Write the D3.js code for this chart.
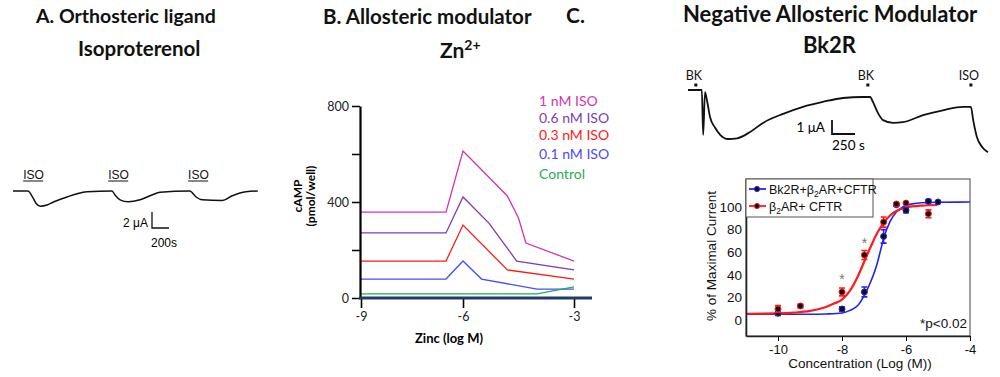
<!DOCTYPE html>
<html>
<head>
<meta charset="utf-8">
<script src="https://cdn.jsdelivr.net/npm/d3@7"></script>
<style>
  body { margin: 0; background: #fff; }
  svg { display: block; }
  .cal { font-family: Lato, "Open Sans", sans-serif; }
  .ari { font-family: "Liberation Sans", Arial, sans-serif; }
</style>
</head>
<body>
<svg id="fig" width="1000" height="377"></svg>
<script>
// ---- panel A: oocyte current trace, time (s) vs current (uA)
const isoTraceT = [0, 175, 235, 275, 320, 400, 470, 635, 765, 870, 1165, 1200, 1260, 1355, 1495, 1635, 1730, 2080, 2155, 2225, 2460, 2580, 2740, 2880];
const isoTraceI = [0, 0, -0.85, -1.6, -1.9, -1.75, -1.4, -0.75, -0.3, -0.1, 0, -0.5, -1.1, -1.35, -1.1, -0.5, -0.15, 0, -0.75, -1.1, -1.2, -0.6, -0.1, 0];
const isoApplied = [120, 1120, 2060];

// ---- panel B: cAMP (pmol/well) vs zinc (log M)
const bLabels = ['1 nM ISO', '0.6 nM ISO', '0.3 nM ISO', '0.1 nM ISO', 'Control'];
const bColors = ['#d433b4', '#7b3fb5', '#ff1a1a', '#4a4aff', '#1fae4f'];
const znIso1 = [-9, -6.5, -6, -4.8, -4.5, -4.3, -3];
const campIso1 = [358, 358, 612, 425, 333, 229, 154];
const znIso06 = [-9, -6.5, -6, -5.3, -4.55, -3];
const campIso06 = [271, 271, 421, 312, 154, 117];
const znIso03 = [-9, -6.5, -6, -4.8, -3];
const campIso03 = [154, 154, 304, 117, 79];
const znIso01 = [-9, -6.5, -6, -5.5, -4, -3];
const campIso01 = [79, 79, 154, 79, 37, 37];
const znCtrl = [-9, -4, -3];
const campCtrl = [17, 17, 46];
const bZn = [znIso1, znIso06, znIso03, znIso01, znCtrl];
const bCamp = [campIso1, campIso06, campIso03, campIso01, campCtrl];

// ---- panel C top: BK / ISO trace, time (s) vs current (uA)
const bkTraceT = [0, 150, 165, 185, 205, 240, 295, 350, 435, 535, 675, 815, 1035, 1250, 1465, 1685, 1900, 1980, 2010, 2065, 2120, 2230, 2335, 2555, 2770, 2990, 3075, 3100, 3140, 3195, 3260];
const bkTraceI = [0, 0, -3.2, -0.15, -0.7, -1.95, -2.7, -3.2, -3.5, -3.45, -3.0, -2.35, -1.7, -1.2, -0.85, -0.57, -0.5, -0.5, -0.85, -1.65, -2.15, -2.35, -2.3, -1.8, -1.45, -1.2, -1.2, -2.15, -3.35, -4.05, -4.45];
const bkMarkLabels = ['BK', 'BK', 'ISO'];
const bkMarkTimes = [85, 1955, 3075];

// ---- panel C bottom: % of maximal current vs concentration (log M)
const bkConc = [-10, -8, -7.3, -6.7, -6.3, -6, -5.3, -5];
const bkMean = [6, 9.7, 24.8, 74, 102, 97, 105, 104.4];
const bkErr = [2, 2, 4.4, 6, 1, 2, 1.5, 1];
const b2Conc = [-10, -9.3, -8, -7.3, -6.7, -6.3, -6, -5.3];
const b2Mean = [9.7, 12.4, 24.8, 57.5, 86.7, 102.7, 103.5, 94];
const b2Err = [3, 1.5, 3.5, 4, 4.5, 1, 1, 3.5];
const bkFitX = [-11, -9, -8.5, -8, -7.75, -7.5, -7.3, -7.1, -6.9, -6.8, -6.7, -6.5, -6.3, -6.1, -5.8, -5.5, -5, -4];
const bkFitY = [5, 5, 5.3, 6.2, 8.5, 13, 22, 34, 50, 61, 72, 87, 95.5, 100, 102.8, 103.8, 104.2, 104.4];
const b2FitX = [-11, -10, -9.5, -9, -8.5, -8.25, -8, -7.75, -7.5, -7.3, -7.1, -6.9, -6.7, -6.5, -6.3, -6, -5.5, -5.03];
const b2FitY = [5.5, 5.8, 6.5, 8, 11.5, 14.5, 18, 26, 39, 52, 65, 77, 86, 92.5, 96.5, 99.5, 101.3, 101.8];
const cTickX = [-10, -8, -6, -4];
const cTickY = [0, 20, 40, 60, 80, 100];
const stars = [[-8, 276], [-7.3, 240]];
const blue = '#2323f0';
const red = '#ff1a1a';

const svg = d3.select('#fig');
svg.append('rect').attr('width', 1000).attr('height', 377).attr('fill', '#fff');

// titles
function title(txt, x, y, size) {
  return svg.append('text').attr('class', 'cal').attr('x', x).attr('y', y)
    .attr('font-size', size).attr('font-weight', 700).attr('fill', '#111').text(txt);
}
title('A. Orthosteric ligand', 36, 23, 19.5);
title('Isoproterenol', 78, 56, 20.5);
title('B. Allosteric modulator', 323, 24, 20.5);
const zn = title('Zn', 440, 58, 21);
zn.append('tspan').attr('font-size', 14).attr('dy', -8).text('2+');
title('C.', 566, 23, 21);
title('Negative Allosteric Modulator', 683, 22, 22);
title('Bk2R', 803, 53, 22);

// ---------- panel A
const ax = d3.scaleLinear().domain([0, 200]).range([13, 30]);
const ay = d3.scaleLinear().domain([0, 2]).range([191, 175]);
const gA = svg.append('g');
gA.append('path')
  .datum(d3.zip(isoTraceT, isoTraceI))
  .attr('d', d3.line().x(d => ax(d[0])).y(d => ay(d[1])).curve(d3.curveMonotoneX))
  .attr('fill', 'none').attr('stroke', '#111').attr('stroke-width', 1.5);
isoApplied.forEach(t => {
  gA.append('text').attr('class', 'ari').attr('x', ax(t)).attr('y', 179)
    .attr('font-size', 12).attr('fill', '#111').text('ISO');
  gA.append('line').attr('x1', ax(t)).attr('x2', ax(t) + 20).attr('y1', 181).attr('y2', 181)
    .attr('stroke', '#111').attr('stroke-width', 1);
});
// scale bar
const sbA = { x: 152, y: 228 };
gA.append('path')
  .attr('d', `M${sbA.x},${sbA.y - (ay(0) - ay(2))}V${sbA.y}H${sbA.x + ax(200) - ax(0)}`)
  .attr('fill', 'none').attr('stroke', '#111').attr('stroke-width', 1.3);
gA.append('text').attr('class', 'ari').attr('x', 148).attr('y', 227).attr('text-anchor', 'end')
  .attr('font-size', 12).text('2 μA');
gA.append('text').attr('class', 'ari').attr('x', 151).attr('y', 247)
  .attr('font-size', 12).text('200s');

// ---------- panel B
const bx = d3.scaleLinear().domain([-9, -6, -3]).range([361, 463, 574]);
const by = d3.scaleLinear().domain([0, 800]).range([298, 106]);
const gB = svg.append('g');
const lineB = d3.line().x(d => bx(d[0])).y(d => by(d[1]));
bZn.forEach((xs, i) => {
  gB.append('path').datum(d3.zip(xs, bCamp[i]))
    .attr('d', lineB).attr('fill', 'none').attr('stroke', bColors[i]).attr('stroke-width', 1.3);
});
const yAxB = gB.append('g').attr('class', 'cal').attr('transform', 'translate(360,0)')
  .call(d3.axisLeft(by).tickValues([0, 200, 400, 600, 800])
    .tickFormat(d => d % 400 === 0 ? d : '').tickSize(8).tickSizeOuter(0).tickPadding(3));
yAxB.attr('font-family', null);
yAxB.select('.domain').attr('stroke-width', 2.2);
yAxB.selectAll('.tick line').attr('stroke-width', 1.5);
yAxB.selectAll('text').attr('font-size', 12.5).attr('fill', '#222');

const xAxB = gB.append('g').attr('class', 'cal').attr('transform', 'translate(0,298)')
  .call(d3.axisBottom(bx).tickValues([-9, -6, -3]).tickFormat(d => String(d))
    .tickSize(10).tickSizeOuter(0).tickPadding(4.5));
xAxB.attr('font-family', null);
xAxB.select('.domain').remove();
xAxB.selectAll('.tick line').attr('stroke-width', 1.6);
xAxB.selectAll('text').attr('font-size', 12.5).attr('fill', '#222');
gB.append('line').attr('x1', 359).attr('x2', 592).attr('y1', 298).attr('y2', 298)
  .attr('stroke', '#1f3c66').attr('stroke-width', 3);

gB.append('text').attr('class', 'cal').attr('x', 449).attr('y', 343).attr('text-anchor', 'middle')
  .attr('font-size', 13).attr('font-weight', 700).text('Zinc (log M)');
const yLabB = gB.append('text').attr('class', 'cal').attr('transform', 'translate(302,196) rotate(-90)')
  .attr('text-anchor', 'middle').attr('font-size', 12).attr('font-weight', 700);
yLabB.append('tspan').attr('x', 0).attr('dy', 0).text('cAMP');
yLabB.append('tspan').attr('x', 0).attr('dy', 13).text('(pmol/well)');

const legYB = [106, 123, 140, 159, 179];
bLabels.forEach((l, i) => {
  gB.append('text').attr('class', 'cal').attr('x', 539).attr('y', legYB[i])
    .attr('font-size', 14).attr('fill', bColors[i]).text(l);
});

// ---------- panel C top trace
const tx = d3.scaleLinear().domain([0, 250]).range([688, 711]);
const ty = d3.scaleLinear().domain([0, 1]).range([90, 76]);
const gC = svg.append('g');
gC.append('path').datum(d3.zip(bkTraceT, bkTraceI))
  .attr('d', d3.line().x(d => tx(d[0])).y(d => ty(d[1])).curve(d3.curveMonotoneX))
  .attr('fill', 'none').attr('stroke', '#111').attr('stroke-width', 1.8);
bkMarkLabels.forEach((l, i) => {
  const x = tx(bkMarkTimes[i]);
  gC.append('text').attr('class', 'cal').attr('x', x - 2).attr('y', 80).attr('text-anchor', 'middle')
    .attr('font-size', 12.5).attr('fill', '#111').text(l);
  gC.append('rect').attr('x', x - 1.5).attr('y', 83.5).attr('width', 3).attr('height', 3).attr('fill', '#111');
});
const sbC = { x: 832, y: 134 };
gC.append('path')
  .attr('d', `M${sbC.x},${sbC.y - (ty(0) - ty(1))}V${sbC.y}H${sbC.x + tx(250) - tx(0)}`)
  .attr('fill', 'none').attr('stroke', '#111').attr('stroke-width', 1.8);
gC.append('text').attr('class', 'cal').attr('x', 825).attr('y', 131.5).attr('text-anchor', 'end')
  .attr('font-size', 13.5).text('1 μA');
gC.append('text').attr('class', 'cal').attr('x', 832).attr('y', 150)
  .attr('font-size', 13.5).text('250 s');

// ---------- panel C bottom: concentration response
const cx = d3.scaleLinear().domain([-11, -4]).range([746, 970]);
const cy = d3.scaleLinear().domain([-14.2, 124.8]).range([336, 179]);
const gD = svg.append('g');
gD.append('rect').attr('x', cx(-11)).attr('y', cy(124.8)).attr('width', cx(-4) - cx(-11))
  .attr('height', cy(-14.2) - cy(124.8)).attr('fill', 'none').attr('stroke', '#444').attr('stroke-width', 1);

const fit = d3.line().x(d => cx(d[0])).y(d => cy(d[1])).curve(d3.curveMonotoneX);
gD.append('path').datum(d3.zip(bkFitX, bkFitY)).attr('d', fit)
  .attr('fill', 'none').attr('stroke', blue).attr('stroke-width', 1.6);
gD.append('path').datum(d3.zip(b2FitX, b2FitY)).attr('d', fit)
  .attr('fill', 'none').attr('stroke', red).attr('stroke-width', 2.2);

function points(conc, mean, err, color) {
  conc.forEach((c, i) => {
    const x = cx(c);
    const y0 = cy(mean[i] - err[i]);
    const y1 = cy(mean[i] + err[i]);
    gD.append('path').attr('d', `M${x},${y0}V${y1}M${x - 3},${y0}H${x + 3}M${x - 3},${y1}H${x + 3}`)
      .attr('stroke', color).attr('stroke-width', 1.6).attr('fill', 'none');
    gD.append('circle').attr('cx', x).attr('cy', cy(mean[i])).attr('r', 3)
      .attr('fill', '#111').attr('stroke', color).attr('stroke-width', 1);
  });
}
points(bkConc, bkMean, bkErr, blue);
points(b2Conc, b2Mean, b2Err, red);

const yAxC = gD.append('g').attr('class', 'ari').attr('transform', `translate(${cx(-11)},0)`)
  .call(d3.axisLeft(cy).tickValues(cTickY).tickSize(0).tickPadding(4).tickSizeOuter(0));
yAxC.attr('font-family', null);
yAxC.select('.domain').attr('stroke', '#222').attr('stroke-width', 1.6);
yAxC.selectAll('text').attr('font-size', 13.5).attr('fill', '#111');

const xAxC = gD.append('g').attr('class', 'ari').attr('transform', `translate(0,${cy(-14.2)})`)
  .call(d3.axisBottom(cx).tickValues(cTickX).tickFormat(d => String(d)).tickSize(5).tickPadding(3.5).tickSizeOuter(0));
xAxC.attr('font-family', null);
xAxC.select('.domain').attr('stroke', '#222').attr('stroke-width', 1.6);
xAxC.selectAll('text').attr('font-size', 13).attr('fill', '#111');

gD.append('text').attr('class', 'ari').attr('x', 860).attr('y', 368).attr('text-anchor', 'middle')
  .attr('font-size', 13.5).attr('fill', '#111').text('Concentration (Log (M))');
gD.append('text').attr('class', 'ari').attr('transform', 'translate(716,256) rotate(-90)')
  .attr('text-anchor', 'middle').attr('font-size', 13.5).attr('fill', '#111').text('% of Maximal Current');
gD.append('text').attr('class', 'ari').attr('x', 967).attr('y', 328).attr('text-anchor', 'end')
  .attr('font-size', 13.5).attr('fill', '#111').text('*p<0.02');
stars.forEach(s => {
  gD.append('text').attr('class', 'ari').attr('x', cx(s[0])).attr('y', s[1] + 8).attr('text-anchor', 'middle')
    .attr('font-size', 14).attr('fill', '#777').text('*');
});

// legend
gD.append('rect').attr('x', 746).attr('y', 179).attr('width', 127).attr('height', 38)
  .attr('fill', '#fff').attr('stroke', '#555').attr('stroke-width', 1);
const legC = [
  { y: 189, color: blue, pre: 'Bk2R+β', post: 'AR+CFTR' },
  { y: 206, color: red, pre: 'β', post: 'AR+ CFTR' }
];
legC.forEach(e => {
  gD.append('line').attr('x1', 749).attr('x2', 766).attr('y1', e.y).attr('y2', e.y)
    .attr('stroke', e.color).attr('stroke-width', 1.8);
  gD.append('circle').attr('cx', 757).attr('cy', e.y).attr('r', 2.6)
    .attr('fill', '#111').attr('stroke', e.color).attr('stroke-width', 1);
  const t = gD.append('text').attr('class', 'ari').attr('x', 769).attr('y', e.y + 4.5)
    .attr('font-size', 12.5).attr('fill', '#111');
  t.append('tspan').text(e.pre);
  t.append('tspan').attr('font-size', 8.5).attr('dy', 3).text('2');
  t.append('tspan').attr('dy', -3).text(e.post);
});
</script>
</body>
</html>
